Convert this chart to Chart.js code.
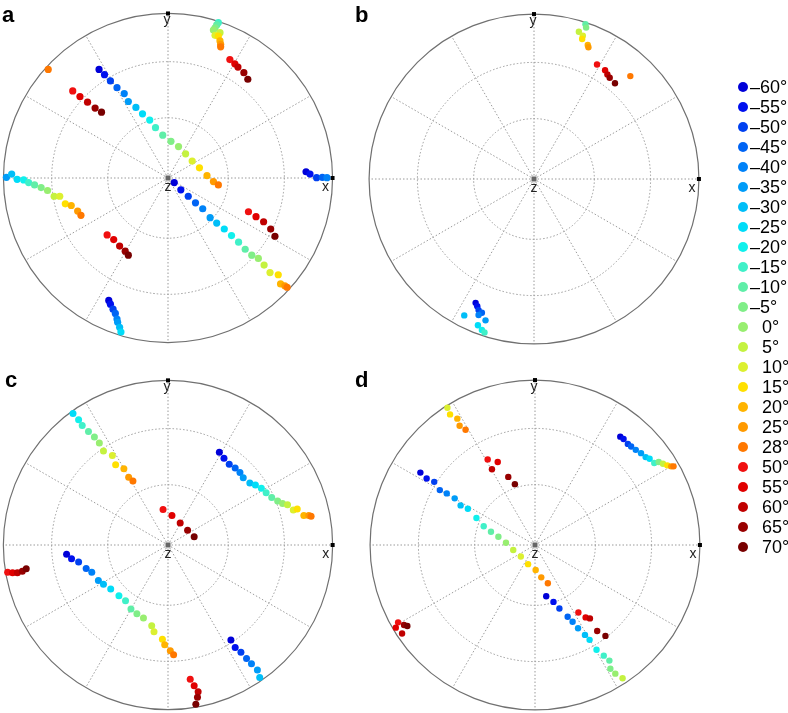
<!DOCTYPE html>
<html>
<head>
<meta charset="utf-8">
<script src="https://cdn.jsdelivr.net/npm/chart.js@4.4.1/dist/chart.umd.min.js"></script>
<style>
    html, body { margin: 0; padding: 0; background: #fff; }
    body { width: 788px; height: 713px; position: relative; overflow: hidden; font-family: "Liberation Sans", Arial, sans-serif; }
    canvas { position: absolute; }
    .tag { position: absolute; font-weight: bold; font-size: 22px; line-height: 22px; color: #000; }
</style>
</head>
<body>
<canvas id="panelA" width="350" height="350" style="left:-7px;top:3px"></canvas>
<canvas id="panelB" width="350" height="350" style="left:359px;top:4px"></canvas>
<canvas id="panelC" width="350" height="350" style="left:-7px;top:370px"></canvas>
<canvas id="panelD" width="350" height="350" style="left:360px;top:370px"></canvas>
<canvas id="legendChart" width="60" height="490" style="left:728px;top:72px"></canvas>
<div class="tag" style="left:2px;top:4px">a</div>
<div class="tag" style="left:355px;top:4px">b</div>
<div class="tag" style="left:5px;top:369px">c</div>
<div class="tag" style="left:355px;top:369px">d</div>
<script>
(function () {
    // legend categories (tilt angle) and their colours
    const angles = [-60, -55, -50, -45, -40, -35, -30, -25, -20, -15, -10, -5, 0, 5, 10, 15, 20, 25, 28, 50, 55, 60, 65, 70];
    const legendLabels = ['–60°', '–55°', '–50°', '–45°', '–40°', '–35°', '–30°', '–25°', '–20°', '–15°', '–10°', '–5°',
        '0°', '5°', '10°', '15°', '20°', '25°', '28°', '50°', '55°', '60°', '65°', '70°'];
    const angleColors = ['#0000d8', '#0010ee', '#0040f0', '#0064f4', '#0082f8', '#009cf8', '#00bef8', '#00dcf8',
        '#10f0ec', '#40f0c8', '#60eea8', '#80ee88', '#98ee70', '#c4f240', '#dcf030', '#ffe000',
        '#ffb400', '#ff9a00', '#ff7800', '#f01010', '#e00000', '#c00000', '#980000', '#780000'];

    // grid: rings at polar angle from z, spokes every 30 deg
    const ringLevels = [30, 60];
    const spokeAngles = [0, 30, 60, 90, 120, 150, 180, 210, 240, 270, 300, 330];

    // points: [x, y, angle] in projected unit-circle coordinates
    const panelA = [
        [-0.419, 0.660, -60], [-0.386, 0.628, -55], [-0.350, 0.590, -50], [-0.310, 0.549, -45], [-0.266, 0.513, -40],
        [-0.241, 0.465, -35], [-0.195, 0.429, -30], [-0.155, 0.390, -25], [-0.111, 0.352, -20], [-0.076, 0.306, -15],
        [-0.032, 0.260, -10], [0.018, 0.223, -5], [0.064, 0.191, 0], [0.107, 0.147, 5], [0.147, 0.103, 10],
        [0.191, 0.062, 15], [0.237, 0.014, 20], [0.276, -0.022, 25], [0.306, -0.042, 28],
        [0.038, -0.028, -60], [0.078, -0.072, -55], [0.123, -0.111, -50], [0.167, -0.151, -45], [0.211, -0.187, -40],
        [0.256, -0.241, -35], [0.296, -0.274, -30], [0.342, -0.310, -25], [0.386, -0.350, -20], [0.429, -0.390, -15],
        [0.469, -0.433, -10], [0.509, -0.469, -5], [0.549, -0.489, 0], [0.584, -0.529, 5], [0.620, -0.575, 10],
        [0.670, -0.588, 15], [0.684, -0.644, 20], [0.710, -0.655, 25], [0.724, -0.664, 28],
        [0.306, 0.945, -15], [0.296, 0.930, -10], [0.286, 0.913, -5], [0.276, 0.899, 0], [0.316, 0.883, 5],
        [0.286, 0.867, 10], [0.306, 0.863, 15], [0.316, 0.833, 20], [0.320, 0.813, 25], [0.320, 0.797, 28],
        [0.376, 0.720, 50], [0.406, 0.694, 55], [0.425, 0.674, 60], [0.461, 0.640, 65], [0.485, 0.600, 70],
        [-0.728, 0.660, 28],
        [-0.579, 0.529, 50], [-0.535, 0.495, 55], [-0.489, 0.461, 60], [-0.443, 0.425, 65], [-0.404, 0.400, 70],
        [-0.982, 0.004, -35], [-0.950, 0.024, -30], [-0.917, -0.008, -25], [-0.877, -0.012, -20], [-0.847, -0.028, -15],
        [-0.811, -0.042, -10], [-0.771, -0.058, -5], [-0.732, -0.076, 0], [-0.692, -0.111, 5], [-0.658, -0.111, 10],
        [-0.624, -0.157, 15], [-0.588, -0.167, 20], [-0.549, -0.201, 25], [-0.529, -0.227, 28],
        [0.839, 0.038, -60], [0.863, 0.024, -55], [0.903, 0.002, -50], [0.938, 0.004, -45], [0.966, 0.002, -40],
        [0.489, -0.205, 50], [0.535, -0.235, 55], [0.581, -0.266, 60], [0.624, -0.310, 65], [0.650, -0.354, 70],
        [-0.370, -0.346, 50], [-0.330, -0.374, 55], [-0.294, -0.414, 60], [-0.260, -0.445, 65], [-0.241, -0.469, 70],
        [-0.360, -0.744, -60], [-0.350, -0.767, -55], [-0.334, -0.797, -50], [-0.320, -0.823, -45], [-0.310, -0.857, -40],
        [-0.306, -0.877, -35], [-0.294, -0.907, -30], [-0.286, -0.936, -25]
    ];

    const panelB = [
        [0.312, 0.938, -10], [0.316, 0.918, -5], [0.272, 0.893, 5], [0.296, 0.869, 10], [0.292, 0.849, 15],
        [0.326, 0.813, 20], [0.330, 0.799, 25],
        [0.382, 0.694, 50], [0.431, 0.660, 55], [0.445, 0.634, 60], [0.459, 0.614, 65], [0.491, 0.581, 70],
        [0.584, 0.624, 28],
        [-0.354, -0.751, -60], [-0.344, -0.771, -55], [-0.336, -0.795, -50], [-0.316, -0.811, -45], [-0.336, -0.825, -40],
        [-0.294, -0.857, -35], [-0.423, -0.827, -30], [-0.340, -0.887, -25], [-0.316, -0.915, -20], [-0.300, -0.930, -15]
    ];

    const panelC = [
        [-0.577, 0.799, -25], [-0.543, 0.761, -20], [-0.521, 0.726, -15], [-0.483, 0.690, -10], [-0.447, 0.656, -5],
        [-0.417, 0.620, 0], [-0.392, 0.571, 5], [-0.338, 0.543, 10], [-0.318, 0.487, 15], [-0.268, 0.463, 20],
        [-0.239, 0.412, 25], [-0.213, 0.388, 28],
        [0.312, 0.563, -60], [0.340, 0.527, -55], [0.372, 0.491, -50], [0.408, 0.467, -45], [0.437, 0.441, -40],
        [0.457, 0.408, -35], [0.497, 0.376, -30], [0.531, 0.364, -25], [0.567, 0.344, -20], [0.596, 0.318, -15],
        [0.630, 0.288, -10], [0.666, 0.268, -5], [0.696, 0.252, 0], [0.726, 0.245, 5], [0.761, 0.213, 10],
        [0.785, 0.219, 15], [0.825, 0.179, 20], [0.855, 0.179, 25], [0.869, 0.175, 28],
        [-0.030, 0.215, 50], [0.024, 0.179, 55], [0.074, 0.133, 60], [0.119, 0.089, 65], [0.159, 0.050, 70],
        [-0.974, -0.165, 50], [-0.944, -0.169, 55], [-0.915, -0.169, 60], [-0.885, -0.159, 65], [-0.861, -0.145, 70],
        [-0.616, -0.056, -60], [-0.586, -0.083, -55], [-0.543, -0.103, -50], [-0.497, -0.143, -45], [-0.463, -0.165, -40],
        [-0.423, -0.215, -35], [-0.392, -0.239, -30], [-0.348, -0.268, -25], [-0.298, -0.308, -20], [-0.258, -0.338, -15],
        [-0.225, -0.388, -10], [-0.189, -0.417, -5], [-0.149, -0.443, 0], [-0.099, -0.491, 5], [-0.085, -0.527, 10],
        [-0.034, -0.573, 15], [-0.020, -0.606, 20], [0.014, -0.642, 25], [0.034, -0.666, 28],
        [0.382, -0.577, -60], [0.408, -0.622, -55], [0.443, -0.652, -50], [0.477, -0.690, -45], [0.507, -0.722, -40],
        [0.543, -0.759, -35], [0.557, -0.805, -30],
        [0.135, -0.815, 50], [0.159, -0.855, 55], [0.183, -0.891, 60], [0.179, -0.924, 65], [0.169, -0.968, 70]
    ];

    const panelD = [
        [-0.531, 0.832, 10], [-0.515, 0.792, 15], [-0.471, 0.766, 20], [-0.457, 0.723, 25], [-0.421, 0.699, 28],
        [-0.287, 0.519, 50], [-0.226, 0.503, 55], [-0.261, 0.459, 60], [-0.162, 0.413, 65], [-0.122, 0.369, 70],
        [0.517, 0.657, -60], [0.537, 0.643, -55], [0.563, 0.613, -50], [0.583, 0.597, -45], [0.611, 0.577, -40],
        [0.643, 0.557, -35], [0.671, 0.533, -30], [0.695, 0.523, -25], [0.723, 0.497, -15], [0.750, 0.503, -5],
        [0.776, 0.493, 5], [0.802, 0.483, 15], [0.826, 0.477, 25], [0.840, 0.477, 28],
        [-0.695, 0.439, -60], [-0.657, 0.403, -55], [-0.611, 0.383, -50], [-0.577, 0.333, -45], [-0.535, 0.313, -40],
        [-0.487, 0.283, -35], [-0.451, 0.240, -30], [-0.407, 0.220, -25], [-0.355, 0.164, -20], [-0.311, 0.114, -15],
        [-0.267, 0.080, -10], [-0.222, 0.050, -5], [-0.176, 0.014, 0], [-0.132, -0.030, 5], [-0.086, -0.070, 10],
        [-0.042, -0.116, 15], [0.004, -0.152, 20], [0.038, -0.196, 25], [0.078, -0.232, 28],
        [0.068, -0.311, -60], [0.112, -0.345, -55], [0.148, -0.385, -50], [0.198, -0.435, -45], [0.228, -0.465, -40],
        [0.261, -0.505, -35], [0.303, -0.545, -30], [0.331, -0.575, -25], [0.373, -0.635, -20], [0.417, -0.671, -15],
        [0.451, -0.701, -10], [0.457, -0.750, -5], [0.487, -0.780, 0], [0.531, -0.808, 5],
        [0.263, -0.409, 50], [0.307, -0.439, 55], [0.333, -0.445, 60], [0.377, -0.521, 65], [0.427, -0.551, 70],
        [-0.830, -0.469, 50], [-0.844, -0.501, 55], [-0.806, -0.537, 60], [-0.794, -0.485, 65], [-0.774, -0.491, 70]
    ];

    const plotRange = 175 / 168;
    const labelFont = '14px "Liberation Sans", Arial, sans-serif';

    function colorFor(angle) {
        return angleColors[angles.indexOf(angle)];
    }

    const polarGrid = {
        id: 'polarGrid',
        beforeDatasetsDraw(chart) {
            const ctx = chart.ctx;
            const sx = chart.scales.x;
            const sy = chart.scales.y;
            const cx = sx.getPixelForValue(0);
            const cy = sy.getPixelForValue(0);
            const r = sx.getPixelForValue(1) - cx;
            ctx.save();
            ctx.strokeStyle = '#9a9a9a';
            ctx.lineWidth = 1;
            ctx.setLineDash([1.5, 2]);
            ringLevels.forEach(function (deg) {
                const rr = r * Math.SQRT2 * Math.sin(deg * Math.PI / 360);
                ctx.beginPath();
                ctx.arc(cx, cy, rr, 0, Math.PI * 2);
                ctx.stroke();
            });
            spokeAngles.forEach(function (deg) {
                const a = deg * Math.PI / 180;
                ctx.beginPath();
                ctx.moveTo(cx, cy);
                ctx.lineTo(cx + r * Math.cos(a), cy - r * Math.sin(a));
                ctx.stroke();
            });
            ctx.setLineDash([]);
            ctx.strokeStyle = '#707070';
            ctx.lineWidth = 1.2;
            ctx.beginPath();
            ctx.arc(cx, cy, r, 0, Math.PI * 2);
            ctx.stroke();

            // axis markers
            ctx.fillStyle = '#000';
            ctx.fillRect(cx - 2, cy - r - 2, 4, 4);
            ctx.fillRect(cx + r - 2, cy - 2, 4, 4);
            ctx.fillStyle = '#666';
            ctx.fillRect(cx - 2.5, cy - 2.5, 5, 5);

            ctx.fillStyle = '#222';
            ctx.font = labelFont;
            ctx.textAlign = 'center';
            ctx.textBaseline = 'alphabetic';
            ctx.fillText('y', cx - 1, cy - r + 11);
            ctx.fillText('x', cx + r - 7, cy + 13);
            ctx.fillText('z', cx, cy + 13);
            ctx.restore();
        }
    };

    function createPanelConfig(points, radius) {
        return {
            type: 'scatter',
            data: {
                datasets: [
                    {
                        data: points.map(function (p) {
                            return { x: p[0], y: p[1] };
                        }),
                        pointBackgroundColor: points.map(function (p) {
                            return colorFor(p[2]);
                        }),
                        pointBorderWidth: 0,
                        pointRadius: radius,
                        pointHoverRadius: radius
                    }
                ]
            },
            options: {
                responsive: false,
                animation: false,
                events: [],
                layout: { padding: 0 },
                plugins: {
                    legend: { display: false },
                    tooltip: { enabled: false }
                },
                scales: {
                    x: { type: 'linear', min: -plotRange, max: plotRange, display: false },
                    y: { type: 'linear', min: -plotRange, max: plotRange, display: false }
                }
            },
            plugins: [polarGrid]
        };
    }

    new Chart(document.getElementById('panelA'), createPanelConfig(panelA, 3.6));
    new Chart(document.getElementById('panelB'), createPanelConfig(panelB, 3.2));
    new Chart(document.getElementById('panelC'), createPanelConfig(panelC, 3.5));
    new Chart(document.getElementById('panelD'), createPanelConfig(panelD, 3.2));

    // legend: one dot per category, label drawn next to it
    const legendText = {
        id: 'legendText',
        afterDatasetsDraw(chart) {
            const ctx = chart.ctx;
            const sx = chart.scales.x;
            const sy = chart.scales.y;
            const dotX = sx.getPixelForValue(0);
            ctx.save();
            ctx.fillStyle = '#000';
            ctx.font = '18px "Liberation Sans", Arial, sans-serif';
            ctx.textAlign = 'left';
            ctx.textBaseline = 'middle';
            legendLabels.forEach(function (label, i) {
                const y = sy.getPixelForValue(i);
                const x = label.charAt(0) === '–' ? dotX + 7 : dotX + 19;
                ctx.fillText(label, x, y + 1);
            });
            ctx.restore();
        }
    };

    new Chart(document.getElementById('legendChart'), {
        type: 'scatter',
        data: {
            labels: legendLabels,
            datasets: [
                {
                    data: legendLabels.map(function (label) {
                        return { x: 0, y: label };
                    }),
                    pointBackgroundColor: angleColors,
                    pointBorderWidth: 0,
                    pointRadius: 5,
                    pointHoverRadius: 5
                }
            ]
        },
        options: {
            responsive: false,
            animation: false,
            events: [],
            layout: { padding: 0 },
            plugins: {
                legend: { display: false },
                tooltip: { enabled: false }
            },
            scales: {
                x: { type: 'linear', min: -1, max: 4, display: false },
                y: { type: 'category', labels: legendLabels, offset: true, display: false }
            }
        },
        plugins: [legendText]
    });
})();
</script>
</body>
</html>
